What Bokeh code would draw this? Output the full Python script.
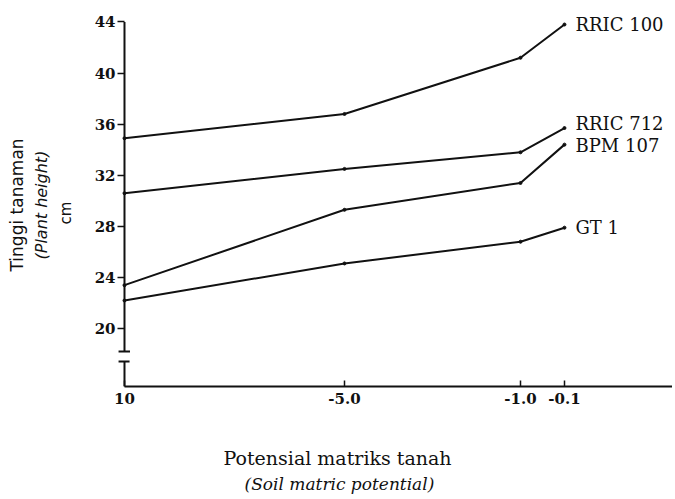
import math
from bokeh.plotting import figure
from bokeh.models import FixedTicker, LinearAxis, Title
from bokeh.core.properties import value
from bokeh.embed import file_html
from bokeh.resources import INLINE

# ---- data ----
potential_labels = ["10", "-5.0", "-1.0", "-0.1"]
x_pos = [0.0, 1.0, 1.8, 2.0]          # position of each level along the drawn axis
series_names = ["RRIC 100", "RRIC 712", "BPM 107", "GT 1"]
rric100 = [34.9, 36.8, 41.2, 43.8]
rric712 = [30.6, 32.5, 33.8, 35.7]
bpm107 = [23.4, 29.3, 31.4, 34.4]
gt1 = [22.2, 25.1, 26.8, 27.9]
y_ticks = [20, 24, 28, 32, 36, 40, 44]

series_values = [rric100, rric712, bpm107, gt1]
label_dy = [0, -5, 1, 0]   # pixel nudges for end labels (style)

W, H = 672, 496
X0, X1 = -0.0318, 2.491
Y0, Y1 = 15.47, 45.68
INK = "#111111"

p = figure(width=W, height=H, output_backend="svg", toolbar_location=None,
           x_range=(X0, X1), y_range=(Y0, Y1),
           min_border_left=117, min_border_right=0, min_border_top=0,
           min_border_bottom=109, x_axis_type=None, y_axis_type=None)
p.outline_line_color = None
p.background_fill_color = "white"
p.border_fill_color = "white"

yax = LinearAxis(ticker=FixedTicker(ticks=y_ticks))
yax.axis_line_color = None
yax.major_tick_in = 7
yax.major_tick_out = 0
yax.major_tick_line_width = 1.5
yax.major_tick_line_color = INK
yax.minor_tick_line_color = None
yax.major_label_standoff = 2
yax.major_label_text_font = "DejaVu Serif"
yax.major_label_text_font_style = "bold"
yax.major_label_text_font_size = "15px"
yax.major_label_text_color = INK
p.add_layout(yax, "left")

xax = LinearAxis(ticker=FixedTicker(ticks=x_pos))
xax.bounds = (0, X1)
xax.axis_line_width = 2
xax.axis_line_color = INK
xax.major_tick_in = 6
xax.major_tick_out = 0
xax.major_tick_line_width = 1.5
xax.major_tick_line_color = INK
xax.minor_tick_line_color = None
xax.major_label_overrides = {xv: lab for xv, lab in zip(x_pos, potential_labels)}
xax.major_label_standoff = 6
xax.major_label_text_font = "DejaVu Serif"
xax.major_label_text_font_style = "bold"
xax.major_label_text_font_size = "15px"
xax.major_label_text_color = INK
p.add_layout(xax, "below")

# vertical axis line with break
p.segment(x0=[0, 0], y0=[18.2, Y0], x1=[0, 0], y1=[44, 17.42],
          line_color=INK, line_width=2)
p.segment(x0=[-0.027, -0.027], y0=[18.2, 17.42], x1=[0.025, 0.023], y1=[18.2, 17.42],
          line_color=INK, line_width=2)

for name, vals, dy in zip(series_names, series_values, label_dy):
    p.line(x_pos, vals, line_color=INK, line_width=2)
    p.scatter(x_pos, vals, size=3, color=INK)
    p.text(x=[x_pos[-1]], y=[vals[-1]], text=[name], x_offset=11, y_offset=dy,
           text_baseline="middle", text_align="left",
           text_font=value("DejaVu Serif"), text_font_size="18px", text_color=INK)

# ---- axis titles as side-panel titles ----
def title(text, place, offset, standoff, size, style="normal", font="DejaVu Serif"):
    t = Title(text=text, align="left", vertical_align="middle", offset=offset,
              standoff=standoff, text_font=font, text_font_style=style,
              text_font_size=size, text_color=INK)
    p.add_layout(t, place)

# below: spacer, then two lines
title(" ", "below", 0, 35, "1px")
title("Potensial matriks tanah", "below", 106, 3, "19px")
title("(Soil matric potential)", "below", 127, 3, "17px", style="italic")

# left: spacer, then cm, (Plant height), Tinggi tanaman
title(" ", "left", 0, 11, "1px")
title("cm", "left", 162, 4, "15px", font="DejaVu Sans")
title("(Plant height)", "left", 127, 3, "16px", style="italic", font="DejaVu Sans")
title("Tinggi tanaman", "left", 115, 3, "17px", font="DejaVu Sans")

open("out.html", "w").write(file_html(p, INLINE))
